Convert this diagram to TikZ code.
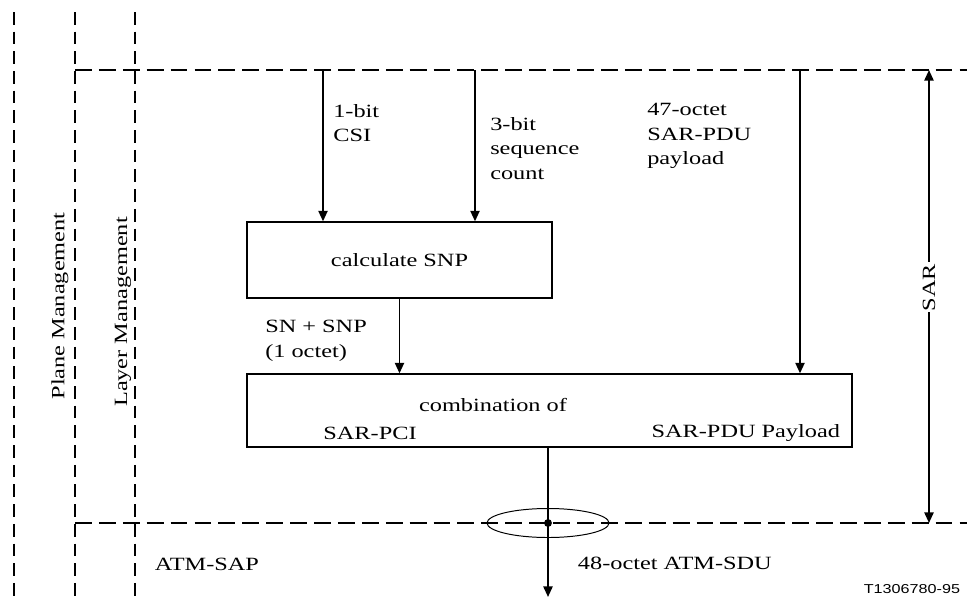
\documentclass[tikz,border=0pt]{standalone}
\usepackage{fontspec}
\setmainfont{Liberation Serif}[FakeStretch=1.3]
\newfontfamily\figfont{Liberation Sans}[FakeStretch=1.25]
\usepackage{tikz}
\usetikzlibrary{arrows.meta, shapes.geometric, positioning, calc}

\tikzset{
	mgmtline/.style  = {line width=1.4pt, dash pattern=on 9pt off 5pt},
	layerline/.style = {line width=1.4pt, dash pattern=on 12pt off 5pt},
	procbox/.style   = {draw, line width=0.9pt, inner sep=0pt},
	flow/.style      = {line width=1.3pt, -{Triangle[length=7.5pt,width=6.5pt]}},
	lbl/.style       = {align=left, anchor=north west, inner sep=0pt}
}

\begin{document}
\begin{tikzpicture}[x=0.025cm, y=-0.025cm, font=\fontsize{13.3}{17.4}\selectfont]
				\useasboundingbox (0,0) rectangle (967,598);
				% management planes and layer boundaries
				\draw[mgmtline] (14,12) -- (14,598);
				\draw[mgmtline] (75,12) -- (75,598);
				\draw[mgmtline] (135,12) -- (135,598);
				\draw[layerline] (75,70) -- (967,70);
				\draw[layerline] (75,523) -- (967,523);
				\node[rotate=90] (plane) at (60,306) {Plane Management};
				\node[rotate=90] (layer) at (123,312) {Layer Management};

				% SAR sublayer boxes
				\node[procbox, minimum width=7.625cm, minimum height=1.9cm] (snp) at (399.5,260) {calculate SNP};
				\node[procbox, minimum width=15.125cm, minimum height=1.825cm] (comb) at (549.5,410.5) {};
				\node (combtxt) at (493,405) {combination of};
				\node (pci) at (370,433) {SAR-PCI};
				\node[anchor=east] (payld) at (845,433) {SAR-PDU Payload};

				% inputs from above
				\coordinate (csi) at (323,70);
				\coordinate (seq) at (475,70);
				\coordinate (pay) at (800,70);
				\draw[flow] (csi) -- (csi |- snp.north);
				\draw[flow] (seq) -- (seq |- snp.north);
				\draw[flow] (pay) -- (pay |- comb.north);
				\draw[flow] (snp.south) -- (comb.north -| snp.south);
				\node[lbl] (csitxt) at (333,104) {1-bit\\CSI};
				\node[lbl] (seqtxt) at (490,117) {3-bit\\sequence\\count};
				\node[lbl] (paytxt) at (647,103) {47-octet\\SAR-PDU\\payload};
				\node[lbl] (sntxt) at (265,320) {SN + SNP\\(1 octet)};

				% output through the ATM-SAP
				\coordinate (out) at (548,597);
				\draw[flow] (comb.south -| out) -- (out);
				\node[draw, ellipse, line width=0.7pt, minimum width=3.05cm, minimum height=0.725cm] (sap) at (548,523) {};
				\fill (sap.center) circle (2.8pt);
				\node[anchor=west] (saptxt) at (150,564) {ATM-SAP};
				\node[anchor=west] (sdutxt) at (573,563) {48-octet ATM-SDU};

				% SAR extent
				\coordinate (sartop) at (929,70);
				\coordinate (sarbot) at (929,523);
				\draw[line width=1.3pt, {Triangle[length=7.5pt,width=6.5pt]}-{Triangle[length=7.5pt,width=6.5pt]}]
					(sartop) -- node[pos=0.48, fill=white, rotate=90, inner sep=1pt] (sar) {SAR} (sarbot);

				\node[anchor=east, font=\figfont\fontsize{9.2}{11}\selectfont] (fig) at (965,589) {T1306780-95};
			\end{tikzpicture}
\end{document}
